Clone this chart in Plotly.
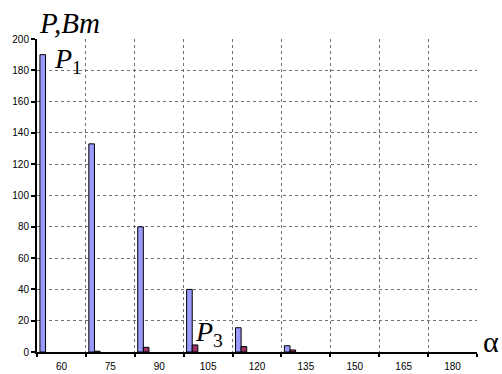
import plotly.graph_objects as go

categories = ["60", "75", "90", "105", "120", "135", "150", "165", "180"]
p1_values = [190, 133, 80, 40, 15.5, 4, None, None, None]
p3_values = [None, 0.5, 3, 4.5, 3.5, 1.3, None, None, None]

bar_w = 0.115
fig = go.Figure()
fig.add_trace(go.Bar(x=categories, y=p1_values, width=bar_w, offset=-0.44,
                     marker=dict(color="#9999FF", line=dict(color="black", width=1)),
                     name="P1"))
fig.add_trace(go.Bar(x=categories, y=p3_values, width=bar_w, offset=-0.44 + bar_w,
                     marker=dict(color="#993366", line=dict(color="black", width=1)),
                     name="P3"))

serif = "Times New Roman, Liberation Serif, DejaVu Serif, serif"
fig.update_layout(
    width=502, height=374,
    margin=dict(l=37, r=25, t=39, b=22, autoexpand=False),
    paper_bgcolor="white", plot_bgcolor="white",
    showlegend=False, barmode="overlay",
    font=dict(family="Liberation Sans, Arial, sans-serif", size=10, color="black"),
    xaxis=dict(type="category", tickson="boundaries", range=[-0.5, 8.5],
               showgrid=True, gridcolor="#707070", griddash="dot", gridwidth=1,
               showline=True, linecolor="black", linewidth=2,
               ticks="outside", ticklen=3, tickcolor="black", tickwidth=2,
               ticklabelstandoff=4,
               tickfont=dict(size=10), automargin=False),
    yaxis=dict(range=[0, 200], dtick=20, showgrid=True, gridcolor="#707070",
               griddash="dot", gridwidth=1, zeroline=False,
               showline=True, linecolor="black", linewidth=2,
               ticks="outside", ticklen=4, tickcolor="black", tickwidth=2,
               tickfont=dict(size=10), automargin=False),
    annotations=[
        dict(text="<i>P,Bm</i>", xref="paper", yref="paper", x=0.0, y=1.0,
             xanchor="left", yanchor="bottom", showarrow=False, yshift=-2,
             font=dict(family=serif, size=29, color="black")),
        dict(text="<i>P</i><sub>1</sub>", xref="paper", yref="y", x=0.035, y=186,
             xanchor="left", yanchor="middle", showarrow=False,
             font=dict(family=serif, size=28, color="black")),
        dict(text="<i>P</i><sub>3</sub>", xref="paper", yref="y", x=0.355, y=12,
             xanchor="left", yanchor="middle", showarrow=False,
             font=dict(family=serif, size=28, color="black")),
        dict(text="α", xref="paper", yref="y", x=1.0, y=7,
             xanchor="left", yanchor="middle", showarrow=False, xshift=4,
             font=dict(family=serif, size=30, color="black")),
    ],
)
fig.write_html("out.html", config={"displayModeBar": False},
               post_script="document.body.style.margin='0';")
